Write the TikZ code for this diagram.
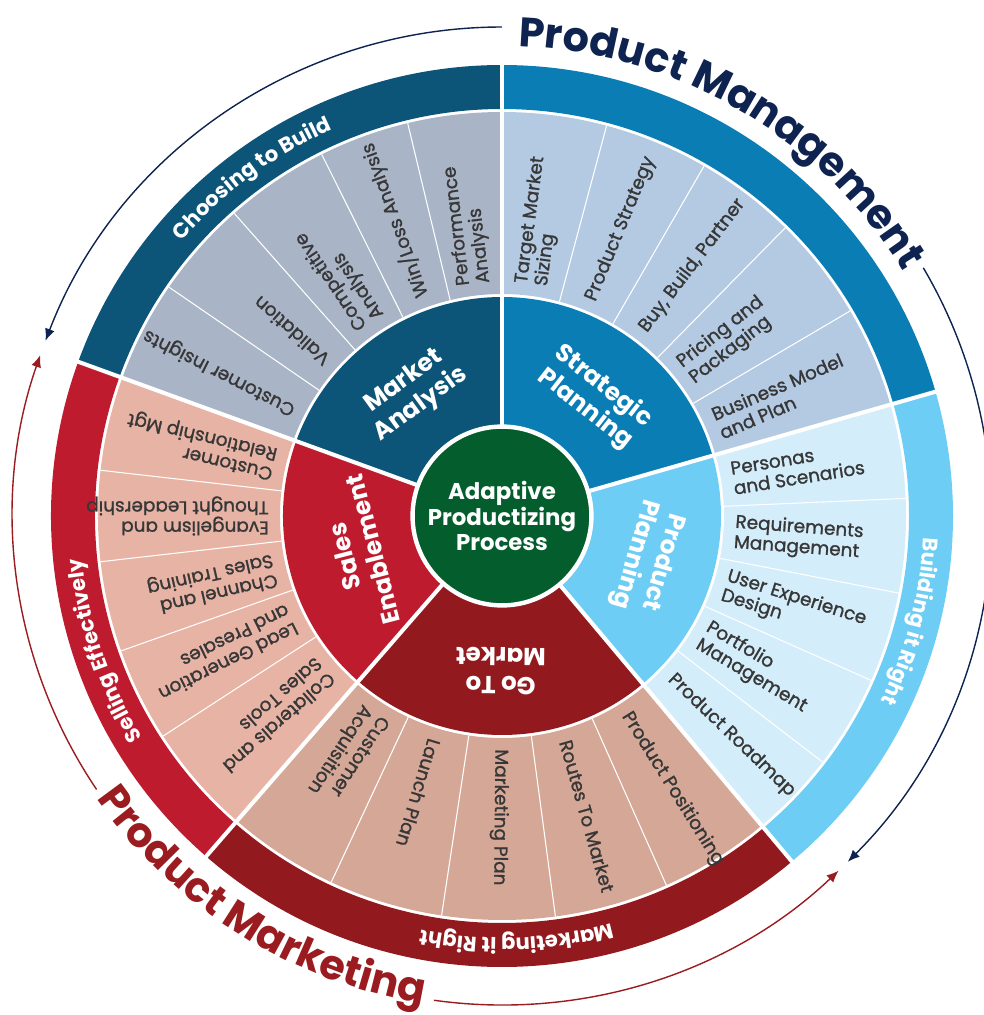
\documentclass[tikz,border=0pt]{standalone}
\usepackage{fontspec}
\setmainfont{Poppins}
\newfontfamily\topicfont{Poppins}[FakeBold=1.2]
\usetikzlibrary{arrows.meta,decorations.text}

\definecolor{madark}{RGB}{12,84,120}
\definecolor{matopic}{RGB}{169,180,199}
\definecolor{spblue}{RGB}{10,125,181}
\definecolor{sptopic}{RGB}{179,202,226}
\definecolor{pplight}{RGB}{110,205,245}
\definecolor{pptopic}{RGB}{212,237,250}
\definecolor{gtmred}{RGB}{146,26,31}
\definecolor{gtmtopic}{RGB}{213,167,151}
\definecolor{sered}{RGB}{190,28,46}
\definecolor{setopic}{RGB}{231,179,164}
\definecolor{appgreen}{RGB}{4,93,45}
\definecolor{pmnavy}{RGB}{14,35,80}
\definecolor{pmkred}{RGB}{155,28,32}
\definecolor{topicgray}{RGB}{55,55,55}

% annular piece: colour, angle from, angle to, inner radius, outer radius
\newcommand{\ringpart}[5]{\fill[fill=#1] (#2:#4) arc[start angle=#2,end angle=#3,radius=#4] -- (#3:#5) arc[start angle=#3,end angle=#2,radius=#5] -- cycle;}

\tikzset{
  topic/.style={anchor=west, align=left, inner sep=0pt, text=topicgray, font=\topicfont\fontsize{10.5}{11.5}\selectfont},
  phase/.style={align=center, inner sep=0pt, text=white, font=\bfseries\fontsize{14}{16.5}\selectfont},
  sepline/.style={white, line width=2.3pt},
  divline/.style={white, line width=0.6pt},
  cycle arrow/.style={line width=0.8pt, -{Latex[length=2.4mm,width=2mm]}},
  ringtext/.style={decorate, decoration={text along path, text align=center,
      text={|\bfseries\fontsize{12}{14}\selectfont\color{white}|#1}}},
  bigtext/.style 2 args={decorate, decoration={text along path, text align=center,
      text={|\bfseries\fontsize{23.5}{28}\selectfont\color{#1}|#2}}},
}

\begin{document}
\begin{tikzpicture}[x=0.02cm, y=0.02cm]
        \useasboundingbox (-502,-499) rectangle (482,516);
        % five phases: from/to angle, phase colour, topic colour
        \foreach \a/\b/\mc/\tc in {90/160/madark/matopic, 16/90/spblue/sptopic, -50/16/pplight/pptopic, -131/-50/gtmred/gtmtopic, 160/229/sered/setopic} {
            \fill[fill=\mc] (0,0) -- (\a:219) arc[start angle=\a, end angle=\b, radius=219] -- cycle;
            \ringpart{\tc}{\a}{\b}{222}{404}
            \ringpart{\mc}{\a}{\b}{407}{451}
        }
        % white gaps between phases
        \foreach \a in {90,16,-50,-131,160}
            \draw[sepline] (0,0) -- (\a:454);
        % thin lines between topics
        \foreach \a in {103.5,116.5,131.5,145.5, 75,60,45.5,30.5, 2.5,-11,-24,-37.5, -115,-98.6,-82.4,-66, 173.5,186.5,199.5,213}
            \draw[divline] (\a:222) -- (\a:404);

        \node[circle, fill=appgreen, draw=white, line width=2.5pt, minimum size=3.3cm, align=center, text=white, font=\bfseries\fontsize{13}{14.5}\selectfont] (core) at (0,0) {Adaptive\\Productizing\\Process};

        \node[phase, rotate=36] (market) at (126:152) {Market\\Analysis};
        \node[phase, rotate=-38] (strategic) at (52:150) {Strategic\\Planning};
        \node[phase, rotate=-106] (planning) at (-16:152) {Product\\Planning};
        \node[phase, rotate=-180.5] (gotomarket) at (-90.5:155) {Go To\\Market};
        \node[phase, rotate=104.5] (sales) at (194.5:148) {Sales\\Enablement};

        % topics, read outwards from the inner edge
        \foreach \ang/\txt [count=\i] in {153/Customer Insights, 138.75/Validation, 124/Competitive\\Analysis, 110/{Win/Loss Analysis}, 96.75/Performance\\Analysis,
            82.5/Target Market\\Sizing, 67.5/Product Strategy, {52.75/Buy, Build, Partner}, 38/Pricing and\\Packaging, 23.25/Business Model\\and Plan,
            9.25/Personas\\and Scenarios, -4.25/Requirements\\Management, -17.5/User Experience\\Design, -30.75/Portfolio\\Management, -43.75/Product Roadmap,
            -123/Customer\\Acquisition, -106.8/Launch Plan, -90.5/Marketing Plan, -74.2/Routes To Market, -58/Product Positioning,
            166.75/Customer\\Relationship Mgt, 180/Evangelism and\\Thought Leadership, 193/Channel and\\Sales Training, 206.25/Lead Generation\\and Presales, 221/Collaterals and\\Sales Tools}
            \node[topic, rotate=\ang] (topic\i) at (\ang:233) {\txt};

        % outer ring captions
        \path[ringtext={Choosing to Build}] (166.5:422) arc[start angle=166.5, end angle=86.5, radius=422];
        \path[ringtext={Building it Right}] (25.5:422) arc[start angle=25.5, end angle=-54.5, radius=422];
        \path[ringtext={Marketing it Right}] (-48:422) arc[start angle=-48, end angle=-128, radius=422];
        \path[ringtext={Selling Effectively}] (238.7:422) arc[start angle=238.7, end angle=158.7, radius=422];

        \path[bigtext={pmnavy}{Product Management}] (99.7:470) arc[start angle=99.7, end angle=19.7, radius=470];
        \path[bigtext={pmkred}{Product Marketing}] (197.8:494) arc[start angle=197.8, end angle=277.8, radius=494];

        \draw[cycle arrow, pmnavy] (90:489) arc[start angle=90, end angle=159, radius=489];
        \draw[cycle arrow, pmnavy] (30.5:489) arc[start angle=30.5, end angle=-45, radius=489];
        \draw[cycle arrow, pmkred] (214:489) arc[start angle=214, end angle=160.8, radius=489];
        \draw[cycle arrow, pmkred] (262:489) arc[start angle=262, end angle=313.5, radius=489];
    \end{tikzpicture}
\end{document}
